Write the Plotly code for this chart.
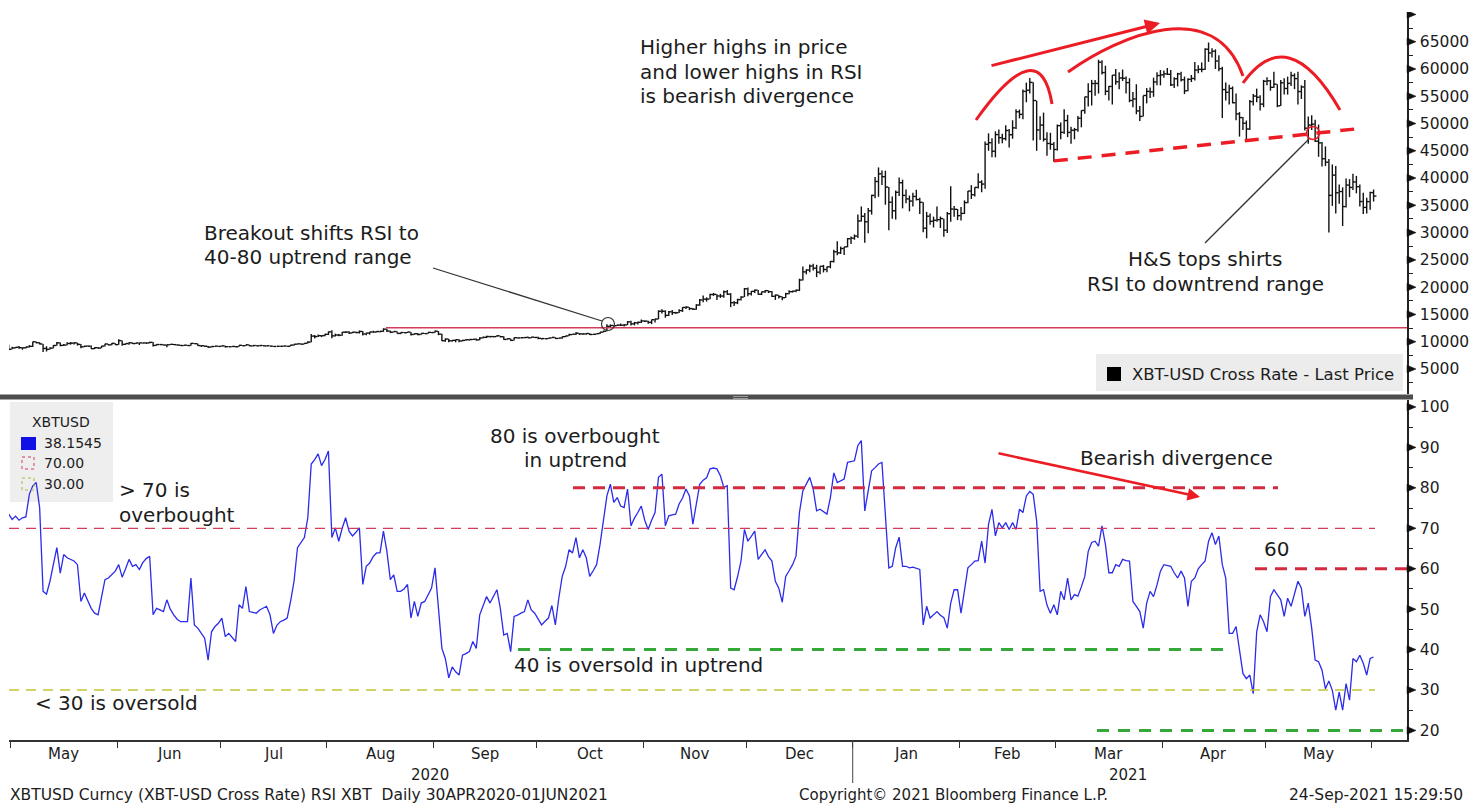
import pandas as pd
import plotly.graph_objects as go

# ---------------- DATA ----------------
# Daily XBT-USD bars, 30 Apr 2020 .. 01 Jun 2021 (low / high / close, USD)
price_low = (
    [8420]
    + [8620, 8760, 8730, 8530, 8760, 8930, 9040, 9700, 9500, 8110, 8200, 8560, 8790, 9250, 9150, 9250, 9360, 9460, 9470, 9300, 8820, 9000, 9100, 8710, 8640, 8700, 8810, 9120, 9330, 9370, 9400]
    + [9420, 9280, 9420, 9460, 9590, 9560, 9390, 9660, 9600, 9700, 9140, 9270, 9400, 9320, 8980, 9380, 9400, 9290, 9230, 9200, 9270, 9280, 9580, 9240, 9030, 9040, 8850, 8950, 9060, 9080]
    + [9100, 8950, 9040, 9060, 8970, 9060, 9210, 9230, 9180, 9140, 9210, 9180, 9200, 9130, 9160, 9070, 9110, 9130, 9120, 9140, 9150, 9280, 9480, 9500, 9520, 9650, 9900, 10600, 10850, 10840, 10980]
    + [11220, 10650, 10950, 11020, 11090, 11580, 11400, 11540, 11550, 11500, 11150, 11170, 11300, 11650, 11690, 11680, 11800, 11800, 11580, 11690, 11500, 11380, 11580, 11600, 11130, 11280, 11170, 11290, 11430, 11460, 11580]
    + [11650, 11200, 10140, 9980, 9880, 10010, 9890, 9880, 10070, 10210, 10200, 10310, 10200, 10270, 10630, 10680, 10780, 10820, 10890, 10790, 10370, 10370, 10160, 10200, 10590, 10650, 10640, 10670, 10650, 10680]
    + [10460, 10400, 10510, 10520, 10620, 10540, 10560, 10540, 10830, 11040, 11260, 11240, 11260, 11280, 11290, 11220, 11290, 11340, 11400, 11690, 11900, 12700, 12720, 12890, 12890, 12800, 13050, 12950, 12990, 13150, 13450]
    + [13620, 13300, 13220, 13530, 14100, 15180, 14400, 14720, 14880, 15120, 15280, 15460, 15990, 15790, 15800, 15870, 16570, 17240, 17360, 17760, 18400, 17650, 18020, 18080, 18570, 16330, 16530, 16880, 17540, 18180]
    + [18330, 18470, 18930, 18600, 18560, 18920, 18910, 18200, 17650, 17930, 17580, 18030, 18700, 19000, 19050, 19280, 21230, 22350, 22750, 23070, 21830, 22370, 22700, 22740, 23460, 24500, 25850, 26090, 25880, 27310, 27890]
    + [28690, 29030, 32020, 28130, 29900, 33300, 36300, 36570, 38720, 35110, 30420, 32530, 32400, 36700, 34450, 35400, 33900, 34800, 35900, 33400, 30080, 28950, 31430, 30950, 31980, 30840, 29250, 29950, 31990, 32900, 32300]
    + [32200, 33410, 35400, 36160, 36600, 38100, 37400, 38050, 45000, 43800, 43800, 46300, 46380, 46900, 45600, 47200, 49000, 50950, 50800, 53900, 55500, 46900, 45000, 47000, 46700, 44100, 45200, 43000]
    + [45060, 47100, 48100, 47500, 46300, 47100, 48500, 49300, 51800, 53100, 53300, 55100, 55500, 59000, 55200, 54200, 53500, 57100, 56300, 57800, 55500, 53900, 53000, 51700, 50450, 51300, 53700, 54700, 54900, 57000, 57000]
    + [58400, 58900, 56900, 56500, 56800, 57700, 55400, 55900, 57600, 57900, 59200, 59400, 59800, 61300, 62100, 60000, 59600, 51000, 54200, 53500, 53700, 50600, 47600, 48800, 47000, 48800, 53300, 53900, 52400, 53000]
    + [57000, 56000, 56500, 53000, 53200, 55300, 55300, 56900, 56300, 53500, 54500, 48700, 46300, 48800, 46600, 43900, 42100, 42200, 30000, 34900, 33500, 35300, 31200, 34600, 36500, 37800, 37200, 34800, 33400, 33500, 34200]
    + [35700]
)
price_high = (
    [9460]
    + [9060, 9000, 9190, 8950, 9080, 9380, 9990, 10050, 9900, 9580, 9170, 8990, 9390, 9930, 9840, 9580, 9880, 9950, 9900, 9820, 9570, 9270, 9300, 9310, 8990, 9010, 9220, 9620, 9610, 9740, 9700]
    + [10430, 10230, 9690, 9880, 9850, 9790, 9800, 9800, 9870, 9980, 9950, 9550, 9510, 9490, 9480, 9580, 9560, 9480, 9420, 9400, 9420, 9750, 9700, 9670, 9340, 9290, 9200, 9160, 9230, 9200]
    + [9300, 9260, 9130, 9190, 9150, 9360, 9370, 9460, 9450, 9310, 9300, 9340, 9340, 9280, 9270, 9200, 9180, 9190, 9240, 9220, 9420, 9540, 9650, 9660, 9740, 10080, 11400, 11220, 11330, 11170, 11440]
    + [11860, 12080, 11470, 11410, 11780, 11900, 11910, 11800, 11810, 12050, 11940, 11640, 11800, 12000, 11950, 11930, 12450, 12380, 12020, 11880, 11890, 11690, 11710, 11800, 11790, 11520, 11580, 11550, 11570, 11720, 11760]
    + [12070, 11950, 11460, 10600, 10560, 10330, 10400, 10440, 10350, 10500, 10410, 10480, 10580, 10800, 10940, 11100, 11040, 11050, 11180, 11080, 10990, 10570, 10570, 10760, 10770, 10790, 10810, 10950, 10860, 10850]
    + [10930, 10660, 10600, 10700, 10800, 10800, 10690, 10950, 11100, 11480, 11430, 11720, 11560, 11550, 11550, 11540, 11400, 11500, 11800, 12020, 13200, 13170, 13020, 13160, 13330, 13230, 13760, 13840, 13630, 13670, 14070]
    + [13900, 13820, 14060, 14230, 15750, 15960, 15760, 15640, 15830, 15470, 15960, 16330, 16480, 16330, 16140, 16860, 17830, 18480, 18130, 18800, 18950, 18690, 18770, 19400, 19480, 18900, 17460, 17880, 18350, 19850]
    + [19920, 19300, 19570, 19500, 19180, 19420, 19400, 19300, 18640, 18560, 18280, 18950, 19410, 19350, 19570, 21550, 23770, 23280, 24170, 24290, 24100, 23840, 24080, 23790, 24790, 26870, 28420, 27440, 27380, 29000, 29300]
    + [29660, 33300, 34790, 33600, 34500, 36940, 40180, 41950, 41380, 41350, 38350, 36620, 37700, 40100, 39700, 37920, 36800, 37300, 37850, 36400, 35570, 33800, 33500, 32930, 34800, 32950, 32560, 33760, 38500, 34880, 34340]
    + [34700, 35910, 37650, 38700, 38300, 40900, 39600, 46700, 48200, 47300, 48570, 48900, 48120, 49700, 49000, 50600, 52600, 52550, 56250, 57500, 58350, 57550, 54200, 51350, 52000, 48400, 48300, 46600]
    + [49800, 50200, 52600, 51600, 49400, 49200, 51400, 52400, 54900, 57400, 58000, 58000, 61700, 61600, 60600, 56900, 58900, 60000, 59400, 59900, 58600, 58300, 55800, 57200, 53200, 55100, 56500, 56600, 58400, 59400, 59800]
    + [59700, 60200, 59800, 58500, 59300, 59500, 58600, 58300, 58900, 61300, 60700, 61200, 63800, 64850, 63800, 63600, 62500, 60400, 57500, 57100, 56800, 55500, 52100, 51200, 50550, 54300, 55400, 56400, 55200, 58000]
    + [58500, 58000, 59500, 57200, 58000, 58300, 58600, 59500, 59200, 59500, 57000, 58000, 51300, 51500, 50700, 49800, 46600, 45800, 43500, 42500, 42200, 38800, 38300, 39900, 39800, 40800, 40400, 38800, 37300, 36400, 37500]
    + [37900]
)
price_close = (
    [8620]
    + [8860, 8980, 8900, 8880, 9030, 9150, 9990, 9810, 9590, 8760, 8600, 8820, 9310, 9790, 9320, 9380, 9670, 9730, 9780, 9510, 9060, 9170, 9180, 8720, 8900, 8840, 9200, 9580, 9420, 9700, 9460]
    + [10200, 9520, 9660, 9800, 9660, 9760, 9780, 9780, 9770, 9880, 9320, 9480, 9470, 9390, 9430, 9520, 9460, 9380, 9300, 9360, 9290, 9690, 9630, 9290, 9260, 9160, 9010, 9120, 9190, 9140]
    + [9230, 9090, 9070, 9130, 9080, 9340, 9250, 9430, 9240, 9290, 9240, 9300, 9240, 9260, 9190, 9130, 9160, 9170, 9210, 9160, 9390, 9540, 9610, 9550, 9710, 9930, 11030, 10940, 11100, 11110, 11350]
    + [11800, 11070, 11230, 11190, 11740, 11770, 11600, 11750, 11680, 11880, 11410, 11580, 11780, 11770, 11870, 11910, 12300, 11960, 11750, 11870, 11520, 11680, 11650, 11770, 11330, 11460, 11320, 11530, 11480, 11710, 11680]
    + [11920, 11390, 10170, 10480, 10170, 10250, 10370, 10130, 10240, 10360, 10400, 10440, 10330, 10680, 10790, 10950, 10940, 10930, 11080, 10920, 10420, 10540, 10240, 10740, 10690, 10730, 10770, 10710, 10840, 10780]
    + [10620, 10570, 10550, 10670, 10790, 10600, 10670, 10920, 11060, 11300, 11380, 11550, 11430, 11430, 11500, 11320, 11360, 11480, 11750, 11920, 12820, 12970, 12930, 13030, 13030, 13070, 13640, 13270, 13460, 13560, 13800]
    + [13760, 13550, 14030, 14160, 15590, 15580, 14830, 15480, 15330, 15300, 15700, 16280, 16330, 16070, 15960, 16720, 17650, 17800, 17820, 18650, 18680, 18380, 18370, 19150, 18720, 17150, 17140, 17720, 18180, 19700]
    + [18790, 19230, 19450, 18700, 19150, 19360, 19170, 18320, 18550, 18260, 18060, 18800, 19170, 19270, 19440, 21310, 22800, 23140, 23870, 23480, 22750, 23830, 23240, 23730, 24710, 26490, 26280, 27080, 27380, 28880, 28990]
    + [29370, 32130, 33000, 31990, 33990, 36820, 39370, 40780, 40250, 38350, 35570, 34000, 37390, 39150, 36820, 36180, 35790, 36630, 36070, 35550, 30820, 33010, 32080, 32270, 32370, 32570, 30440, 33470, 34320, 34270, 33110]
    + [33520, 35510, 37620, 36940, 38290, 39260, 38900, 46200, 46480, 44920, 47970, 47410, 47230, 48720, 47940, 49200, 52150, 51680, 55890, 56100, 57540, 54210, 48820, 49710, 47120, 46340, 46190, 45240]
    + [49610, 48380, 50540, 48370, 48760, 48880, 50970, 52390, 54880, 55880, 57330, 57350, 61240, 59340, 55910, 56800, 58870, 57650, 58350, 58290, 57500, 54230, 54500, 52310, 51300, 55140, 55890, 55800, 57620, 58790, 58920]
    + [59100, 59020, 57090, 58210, 59100, 58020, 56000, 58100, 58260, 59800, 59930, 59920, 63620, 62940, 63250, 61460, 60060, 56220, 55720, 56440, 53810, 51760, 51090, 50050, 49000, 54020, 55030, 54820, 53560, 57750]
    + [57830, 56630, 57210, 53240, 57470, 56430, 57360, 58800, 58230, 55860, 56700, 49150, 49720, 49880, 46760, 46450, 43540, 42910, 36830, 40540, 37300, 37530, 34770, 38710, 38280, 39290, 38420, 35700, 34620, 35680, 37340]
    + [36700]
)

# Daily 14-day RSI, same dates
rsi = [
    73.5, 72.2, 73.0, 72.0, 72.6, 72.8, 78.4, 80.5, 81.3, 75.1,   # 0
    54.4, 53.7, 56.9, 61.0, 65.2, 58.9, 63.5, 62.7, 62.3, 61.9,   # 10
    61.0, 51.9, 54.0, 52.0, 50.2, 49.0, 48.6, 53.0, 57.3, 57.7,   # 20
    58.5, 59.4, 61.0, 57.9, 60.0, 62.3, 60.6, 61.0, 59.8, 61.5,   # 30
    62.5, 63.1, 48.6, 50.2, 49.8, 49.4, 52.3, 50.0, 48.6, 47.5,   # 40
    46.9, 46.9, 46.9, 57.7, 46.1, 45.3, 44.0, 42.8, 37.4, 44.4,   # 50
    45.7, 46.5, 47.8, 43.2, 44.0, 43.0, 42.0, 51.1, 50.2, 55.6,   # 60
    49.4, 49.2, 49.0, 49.8, 50.2, 50.7, 48.6, 44.0, 46.0, 46.9,   # 70
    47.3, 47.8, 52.0, 56.9, 65.2, 66.5, 67.7, 72.6, 85.9, 87.0,   # 80
    88.4, 85.5, 87.0, 89.1, 67.7, 70.1, 66.8, 70.0, 72.6, 69.3,   # 90
    68.1, 69.0, 70.1, 56.1, 60.6, 61.4, 63.0, 63.9, 63.9, 69.3,   # 100
    64.3, 57.3, 58.5, 54.4, 54.4, 55.0, 56.1, 47.8, 51.9, 48.2,   # 110
    51.5, 51.9, 53.5, 55.2, 60.2, 50.2, 40.3, 37.8, 33.0, 35.7,   # 120
    34.5, 33.7, 38.6, 39.0, 39.5, 42.0, 40.3, 48.6, 51.0, 53.1,   # 130
    51.5, 53.0, 54.8, 50.2, 43.6, 44.0, 39.5, 48.2, 48.5, 49.0,   # 140
    49.4, 52.3, 49.8, 49.0, 47.5, 46.1, 47.0, 47.8, 50.9, 46.1,   # 150
    52.7, 58.1, 60.6, 64.7, 63.9, 67.7, 62.7, 64.7, 62.7, 58.1,   # 160
    59.5, 61.0, 66.0, 72.0, 78.0, 80.9, 76.4, 77.6, 75.5, 75.1,   # 170
    79.7, 70.6, 72.5, 73.9, 75.5, 72.0, 69.7, 72.0, 73.9, 82.6,   # 180
    83.4, 70.6, 73.1, 73.3, 73.5, 76.0, 77.5, 79.7, 78.0, 71.0,   # 190
    76.0, 80.9, 81.9, 82.5, 84.7, 84.9, 84.7, 83.0, 80.1, 80.5,   # 200
    55.2, 54.8, 58.0, 61.9, 69.7, 66.8, 68.0, 69.3, 62.3, 63.5,   # 210
    64.7, 63.0, 61.9, 56.9, 55.2, 51.7, 58.1, 59.5, 61.0, 63.1,   # 220
    73.9, 79.3, 81.0, 82.6, 79.7, 74.3, 74.7, 74.0, 73.5, 77.6,   # 230
    83.7, 81.3, 81.8, 82.2, 86.3, 86.5, 86.7, 90.5, 91.7, 74.3,   # 240
    79.3, 84.2, 85.0, 85.9, 86.3, 72.6, 60.2, 60.6, 65.2, 67.8,   # 250
    60.6, 60.6, 60.2, 60.4, 60.0, 59.8, 46.1, 50.7, 47.8, 48.5,   # 260
    49.4, 48.5, 47.9, 45.3, 51.5, 54.8, 54.8, 49.0, 55.2, 60.2,   # 270
    61.0, 61.9, 62.0, 66.8, 61.4, 71.0, 74.7, 68.1, 71.4, 70.1,   # 280
    71.4, 69.7, 71.4, 69.7, 74.7, 73.9, 78.0, 79.1, 78.4, 71.8,   # 290
    54.4, 54.8, 51.0, 49.0, 51.1, 48.6, 54.4, 52.3, 57.7, 52.3,   # 300
    53.6, 53.2, 55.5, 58.1, 64.3, 66.5, 66.8, 65.6, 70.6, 66.0,   # 310
    59.0, 59.0, 61.0, 60.6, 62.3, 62.0, 61.9, 51.9, 50.7, 49.4,   # 320
    45.3, 51.5, 54.4, 53.1, 56.0, 59.4, 61.0, 60.8, 60.6, 59.0,   # 330
    57.7, 59.4, 57.7, 50.7, 56.9, 57.7, 60.0, 61.0, 61.9, 66.8,   # 340
    68.9, 66.0, 68.1, 61.0, 57.7, 44.0, 44.0, 45.7, 39.5, 34.1,   # 350
    32.8, 33.7, 29.1, 44.4, 48.6, 46.9, 44.4, 53.1, 54.8, 53.6,   # 360
    52.3, 48.2, 52.7, 50.7, 53.6, 56.9, 55.2, 48.2, 51.5, 45.3,   # 370
    37.4, 37.0, 34.9, 30.3, 32.2, 29.9, 25.0, 29.5, 25.0, 31.6,   # 380
    27.5, 37.8, 37.0, 38.6, 36.6, 33.7, 37.8, 38.1545,            # 390
]

start_date = "2020-04-30"
month_starts = pd.date_range("2020-05-01", "2021-05-01", freq="MS")
price_ticks = [5000, 10000, 15000, 20000, 25000, 30000, 35000, 40000, 45000,
               50000, 55000, 60000, 65000, 70000]
price_ticktext = ["5000", "10000", "15000", "20000", "25000", "30000", "35000",
                  "40000", "45000", "50000", "55000", "60000", "65000", ""]
rsi_ticks = [20, 30, 40, 50, 60, 70, 80, 90, 100]
breakout_level = 12570
neckline = [43150, 49050]
rsi_levels = {"ob": 70, "os": 30, "up_ob": 80, "up_os": 40, "dn_ob": 60, "dn_os": 20}

# ---------------- GEOMETRY / STYLE ----------------
FIG_W, FIG_H = 1469, 804
PL, PR, PT, PB = 9, 1407, 12, 740
W, H = PR - PL, PB - PT
TOP_PANEL_BOTTOM, BOT_PANEL_TOP = 394, 400
price_range = [412, 70445]
rsi_range = [17.63, 101.73]
X_RANGE = ["2020-04-30 14:05", "2021-06-11 05:17"]


def fx(x):
    return (x - PL) / W


def fy(y):
    return (PB - y) / H


RED = "#ec1c24"
THIN_RED = "#d23c5a"
OLIVE = "#c4c436"
GREEN = "#35a83a"
TXT = "#1c1c1c"
ANN_FONT = dict(family="DejaVu Sans", size=20, color=TXT)
UI_FONT = "DejaVu Sans"

dates = pd.date_range(start_date, periods=len(price_close), freq="D")
bar_x = dates + pd.Timedelta(hours=12)

fig = go.Figure()

# price bars (high-low with close tick)
xs, ys = [], []
for t, lo, hi, c in zip(bar_x, price_low, price_high, price_close):
    t0 = t.strftime("%Y-%m-%d %H:%M")
    t1 = (t + pd.Timedelta(hours=20)).strftime("%Y-%m-%d %H:%M")
    xs += [t0, t0, None, t0, t1, None]
    ys += [lo, hi, None, c, c, None]
fig.add_trace(go.Scatter(x=xs, y=ys, mode="lines", xaxis="x", yaxis="y",
                         line=dict(color="#111111", width=1.4),
                         hoverinfo="skip", showlegend=False, connectgaps=False))

# RSI line
fig.add_trace(go.Scatter(x=[t.strftime("%Y-%m-%d %H:%M") for t in bar_x[:len(rsi)]],
                         y=rsi, mode="lines", xaxis="x", yaxis="y2",
                         line=dict(color="#2b2bea", width=1.3), showlegend=False))

shapes = []


def line_px(x0, y0, x1, y1, color, width, dash="solid"):
    shapes.append(dict(type="line", xref="paper", yref="paper",
                       x0=fx(x0), y0=fy(y0), x1=fx(x1), y1=fy(y1),
                       line=dict(color=color, width=width, dash=dash)))


def hline(yref, val, x0, x1, color, width, dash):
    shapes.append(dict(type="line", xref="paper", yref=yref,
                       x0=fx(x0), x1=fx(x1), y0=val, y1=val,
                       line=dict(color=color, width=width, dash=dash)))


def rect_px(x0, y0, x1, y1, fill, layer="below", line=None):
    shapes.append(dict(type="rect", xref="paper", yref="paper",
                       x0=fx(x0), y0=fy(y0), x1=fx(x1), y1=fy(y1),
                       fillcolor=fill, layer=layer,
                       line=line or dict(width=0)))


def qpath(p0, c, p1, color, width):
    path = "M {:.5f},{:.5f} Q {:.5f},{:.5f} {:.5f},{:.5f}".format(
        fx(p0[0]), fy(p0[1]), fx(c[0]), fy(c[1]), fx(p1[0]), fy(p1[1]))
    shapes.append(dict(type="path", xref="paper", yref="paper", path=path,
                       line=dict(color=color, width=width)))


def cpath(p0, c1, c2, p1, color, width):
    path = "M {:.5f},{:.5f} C {:.5f},{:.5f} {:.5f},{:.5f} {:.5f},{:.5f}".format(
        fx(p0[0]), fy(p0[1]), fx(c1[0]), fy(c1[1]), fx(c2[0]), fy(c2[1]),
        fx(p1[0]), fy(p1[1]))
    shapes.append(dict(type="path", xref="paper", yref="paper", path=path,
                       line=dict(color=color, width=width)))


def circle_px(cx, cy, r, color, width):
    shapes.append(dict(type="circle", xref="paper", yref="paper",
                       x0=fx(cx - r), x1=fx(cx + r), y0=fy(cy + r), y1=fy(cy - r),
                       line=dict(color=color, width=width)))


# legend boxes
rect_px(1096, 354, 1403, 391, "#ececec")
rect_px(1107, 367, 1121, 381, "#000000", layer="above")
rect_px(10, 402, 113, 502, "#eeeeee")
rect_px(21, 437, 36, 450, "#1010e6", layer="above")
rect_px(22, 457, 34, 469, "rgba(0,0,0,0)", layer="above",
        line=dict(color=THIN_RED, width=1, dash="dot"))
rect_px(22, 478, 34, 490, "rgba(0,0,0,0)", layer="above",
        line=dict(color="#a8b83c", width=1, dash="dot"))

# panel separator
rect_px(0, 394.5, 1413, 399.5, "#4d4d4d", layer="above")
rect_px(733, 396, 748, 397, "#9a9a9a", layer="above")
rect_px(733, 398, 748, 399, "#9a9a9a", layer="above")

# top panel: breakout level
shapes.append(dict(type="line", xref="x", yref="y",
                   x0="2020-08-18 06:00", x1=X_RANGE[1],
                   y0=breakout_level, y1=breakout_level,
                   line=dict(color=THIN_RED, width=1.5)))

# H&S neckline (dashed)
shapes.append(dict(type="line", xref="x", yref="y",
                   x0="2021-02-28 12:00", x1="2021-05-28 00:00",
                   y0=neckline[0], y1=neckline[1],
                   line=dict(color=RED, width=3.5, dash="14px,10px")))

# red arcs
qpath((976, 120), (1040, 30), (1052, 104), RED, 3)
cpath((1068, 72), (1120, 35), (1215, -5), (1243, 76), RED, 3)
qpath((1243, 83), (1288, 20), (1340, 110), RED, 3)

# circles and pointer lines
circle_px(608, 324, 6.5, "#333333", 1.2)
circle_px(1313, 133, 6.5, RED, 1.5)
line_px(433, 268, 602, 321, "#333333", 1.3)
line_px(1205, 243, 1309, 139, "#333333", 1.3)

# RSI reference lines
hline("y2", rsi_levels["ob"], PL, 1375, THIN_RED, 1.2, "10px,7px")
hline("y2", rsi_levels["os"], PL, 1375, OLIVE, 1.3, "10px,7px")
hline("y2", rsi_levels["up_ob"], 573, 1278, "#d42a40", 3, "12px,8px")
hline("y2", rsi_levels["up_os"], 518, 1223, GREEN, 3, "12px,9px")
hline("y2", rsi_levels["dn_ob"], 1255, 1407, "#d42a40", 3, "12px,8px")
hline("y2", rsi_levels["dn_os"], 1097, 1407, GREEN, 3, "12px,9px")

# year divider tick
shapes.append(dict(type="line", xref="x", yref="paper", x0="2021-01-01", x1="2021-01-01",
                   y0=0, y1=fy(783), line=dict(color="#444444", width=1)))

# major tick triangles on right axes
top_px = TOP_PANEL_BOTTOM - PT
p_per_px = (price_range[1] - price_range[0]) / top_px
r_per_px = (rsi_range[1] - rsi_range[0]) / (PB - BOT_PANEL_TOP)
for v in price_ticks:
    d = 3.8 * p_per_px
    shapes.append(dict(type="path", xref="paper", yref="y",
                       path="M 1,{} L {:.5f},{} L 1,{} Z".format(v - d, fx(1416), v, v + d),
                       fillcolor="#111111", line=dict(color="#111111", width=0.5)))
for v in rsi_ticks:
    d = 3.8 * r_per_px
    shapes.append(dict(type="path", xref="paper", yref="y2",
                       path="M 1,{} L {:.5f},{} L 1,{} Z".format(v - d, fx(1416), v, v + d),
                       fillcolor="#111111", line=dict(color="#111111", width=0.5)))

annotations = []


def text_px(txt, x, y, xanchor="left", font=None, yanchor="middle"):
    annotations.append(dict(text=txt, x=fx(x), y=fy(y), xref="paper", yref="paper",
                            xanchor=xanchor, yanchor=yanchor, showarrow=False,
                            font=font or ANN_FONT))


# top panel comments
text_px("Higher highs in price", 638, 47)
text_px("and lower highs in RSI", 638, 72)
text_px("is bearish divergence", 638, 96)
text_px("Breakout shifts RSI to", 202, 233)
text_px("40-80 uptrend range", 202, 257)
text_px("H&amp;S tops shirts", 1205, 259, "center")
text_px("RSI to downtrend range", 1205, 284, "center")

# bottom panel comments
text_px("&gt; 70 is", 117, 490)
text_px("overbought", 117, 515)
text_px("&lt; 30 is oversold", 33, 703)
text_px("80 is overbought", 575, 436, "center")
text_px("in uptrend", 575, 460, "center")
text_px("40 is oversold in uptrend", 512, 665)
text_px("Bearish divergence", 1078, 458)
text_px("60", 1262, 549)

# legends
text_px("XBT-USD Cross Rate - Last Price", 1396, 374, "right",
        dict(family=UI_FONT, size=16.5, color=TXT))
text_px("XBTUSD", 61, 422, "center", dict(family=UI_FONT, size=14, color=TXT))
text_px("38.1545", 42, 443, "left", dict(family=UI_FONT, size=14, color=TXT))
text_px("70.00", 42, 463, "left", dict(family=UI_FONT, size=14, color=TXT))
text_px("30.00", 42, 484, "left", dict(family=UI_FONT, size=14, color=TXT))

# month labels centred in each month
for m in month_starts:
    mid = m + pd.Timedelta(days=m.days_in_month / 2.0)
    annotations.append(dict(text=m.strftime("%b"), x=mid.strftime("%Y-%m-%d %H:%M"),
                            y=fy(754), xref="x", yref="paper", showarrow=False,
                            xanchor="center", yanchor="middle",
                            font=dict(family=UI_FONT, size=15, color=TXT)))

# years and footer
text_px("2020", 430, 775, "center", dict(family=UI_FONT, size=15, color=TXT))
text_px("2021", 1128, 775, "center", dict(family=UI_FONT, size=15, color=TXT))
text_px("XBTUSD Curncy (XBT-USD Cross Rate) RSI XBT\u00a0\u00a0Daily 30APR2020-01JUN2021",
        8, 795, "left", dict(family=UI_FONT, size=15.5, color=TXT))
text_px("Copyright\u00a9 2021 Bloomberg Finance L.P.", 797, 795, "left",
        dict(family=UI_FONT, size=15, color=TXT))
text_px("24-Sep-2021 15:29:50", 1465, 795, "right",
        dict(family=UI_FONT, size=15.5, color=TXT))

# arrows
annotations.append(dict(text="", x=fx(1160), y=fy(23), xref="paper", yref="paper",
                        ax=-170, ay=43, showarrow=True, arrowhead=2, arrowsize=1,
                        arrowwidth=3, arrowcolor=RED, standoff=0))
annotations.append(dict(text="", x=fx(1200), y=fy(497), xref="paper", yref="paper",
                        ax=-203, ay=-44, showarrow=True, arrowhead=2, arrowsize=1,
                        arrowwidth=2.5, arrowcolor=RED, standoff=0))

axis_font = dict(family=UI_FONT, size=15.5, color=TXT)
fig.update_layout(
    width=FIG_W, height=FIG_H,
    margin=dict(l=PL, r=FIG_W - PR, t=PT, b=FIG_H - PB, autoexpand=False),
    paper_bgcolor="white", plot_bgcolor="white",
    showlegend=False,
    xaxis=dict(type="date", range=X_RANGE,
               anchor="y2", domain=[0, 1],
               dtick="M1", tick0="2020-01-01", showticklabels=False,
               ticks="outside", ticklen=6, tickwidth=1.2, tickcolor="#333333",
               showline=True, linecolor="#333333", linewidth=2,
               showgrid=False, zeroline=False),
    yaxis=dict(domain=[fy(TOP_PANEL_BOTTOM), 1], range=price_range, side="right", anchor="x",
               tickmode="array", tickvals=price_ticks, ticktext=price_ticktext,
               ticks="outside", ticklen=8, tickcolor="rgba(0,0,0,0)",
               minor=dict(tickmode="linear", tick0=0, dtick=2500, ticks="outside",
                          ticklen=4, tickwidth=1, tickcolor="#222222"),
               showline=True, linecolor="#222222", linewidth=1.5,
               showgrid=False, zeroline=False, tickfont=axis_font),
    yaxis2=dict(domain=[0, fy(BOT_PANEL_TOP)], range=rsi_range, side="right", anchor="x",
                tickmode="array", tickvals=rsi_ticks,
                ticks="outside", ticklen=8, tickcolor="rgba(0,0,0,0)",
                minor=dict(tickmode="linear", tick0=0, dtick=5, ticks="outside",
                           ticklen=4, tickwidth=1, tickcolor="#222222"),
                showline=True, linecolor="#222222", linewidth=1.5,
                showgrid=False, zeroline=False, tickfont=axis_font),
    shapes=shapes,
    annotations=annotations,
)

fig.write_html("out.html", config={"displayModeBar": False},
               post_script="document.body.style.margin='0px';")
